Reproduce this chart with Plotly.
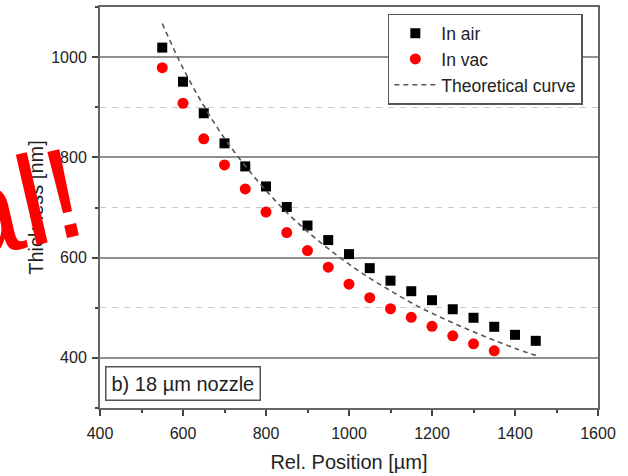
import plotly.graph_objects as go

# ---- data ----
pos_air = [550, 600, 650, 700, 750, 800, 850, 900, 950, 1000, 1050, 1100, 1150, 1200, 1250, 1300, 1350, 1400, 1450]
thk_air = [1019, 951, 888, 828, 782, 742, 701, 664, 635, 607, 579, 554, 533, 515, 497, 480, 462, 446, 434]

pos_vac = [550, 600, 650, 700, 750, 800, 850, 900, 950, 1000, 1050, 1100, 1150, 1200, 1250, 1300, 1350]
thk_vac = [979, 908, 837, 785, 737, 691, 650, 614, 581, 547, 520, 498, 481, 463, 444, 428, 414]

pos_theory = [550, 600, 650, 700, 750, 800, 850, 900, 950, 1000, 1050, 1100, 1150, 1200, 1250, 1300, 1350, 1400, 1450]
thk_theory = [1067, 978, 903, 838, 783, 734, 690, 652, 618, 587, 559, 534, 510, 489, 470, 452, 435, 419, 405]

x_ticks = [400, 600, 800, 1000, 1200, 1400, 1600]
y_ticks = [400, 600, 800, 1000]

FONT = "Liberation Sans, Arial, sans-serif"
TXT = "#222222"

fig = go.Figure()
fig.add_trace(go.Scatter(
    x=pos_air, y=thk_air, mode="markers", name="In air",
    marker=dict(symbol="square", size=10, color="black")))
fig.add_trace(go.Scatter(
    x=pos_vac, y=thk_vac, mode="markers", name="In vac",
    marker=dict(symbol="circle", size=11, color="#ff0000")))
fig.add_trace(go.Scatter(
    x=pos_theory, y=thk_theory, mode="lines", name="Theoretical curve",
    line=dict(color="#555555", width=1.6, dash="5px,4px", shape="spline")))

axis_common = dict(
    showline=True, linecolor="#666666", linewidth=2, mirror=True,
    ticks="outside", ticklen=6, tickwidth=1.5, tickcolor="#444444",
    tickfont=dict(family=FONT, size=16, color=TXT),
    zeroline=False, automargin=False,
)

fig.update_xaxes(
    range=[400, 1600], tickvals=x_ticks, showgrid=False,
    title=dict(text="Rel. Position [µm]", font=dict(family=FONT, size=20, color=TXT), standoff=14),
    minor=dict(dtick=100, tick0=400, ticks="outside", ticklen=3, tickcolor="#444444", showgrid=False),
    ticklabelstandoff=4,
    **axis_common)
fig.update_yaxes(
    range=[300, 1100], tickvals=y_ticks, showgrid=True, gridcolor="#8f8f8f", gridwidth=1.5,
    title=dict(text="Thickness [nm]", font=dict(family=FONT, size=20, color=TXT), standoff=2),
    minor=dict(dtick=100, tick0=300, ticks="outside", ticklen=3, tickcolor="#444444",
               showgrid=True, gridcolor="#cccccc", gridwidth=1.2, griddash="6px,6px"),
    ticklabelstandoff=2,
    **axis_common)

fig.update_layout(
    width=628, height=476,
    margin=dict(l=100, r=30, t=7, b=68),
    paper_bgcolor="white", plot_bgcolor="white",
    font=dict(family=FONT, color=TXT),
    legend=dict(
        x=0.578, y=0.983, xanchor="left", yanchor="top",
        bgcolor="white", bordercolor="#555555", borderwidth=1.5,
        font=dict(family=FONT, size=17.5, color=TXT),
        tracegroupgap=0, itemwidth=42,
    ),
    showlegend=True,
)

fig.add_annotation(
    xref="paper", yref="paper", x=0.167, y=0.060, xanchor="center", yanchor="middle",
    text="b) 18 µm nozzle", showarrow=False,
    font=dict(family=FONT, size=20, color=TXT),
    bordercolor="#555555", borderwidth=1.5, borderpad=5, bgcolor="white")

fig.add_annotation(
    xref="paper", yref="paper", x=-0.172, y=0.508, xanchor="center", yanchor="middle",
    text="al!", showarrow=False, textangle=-13,
    font=dict(family=FONT, size=128, color="#ff0000"))

fig.write_html("out.html", config={"displayModeBar": False},
               post_script="document.body.style.margin='0px';")
